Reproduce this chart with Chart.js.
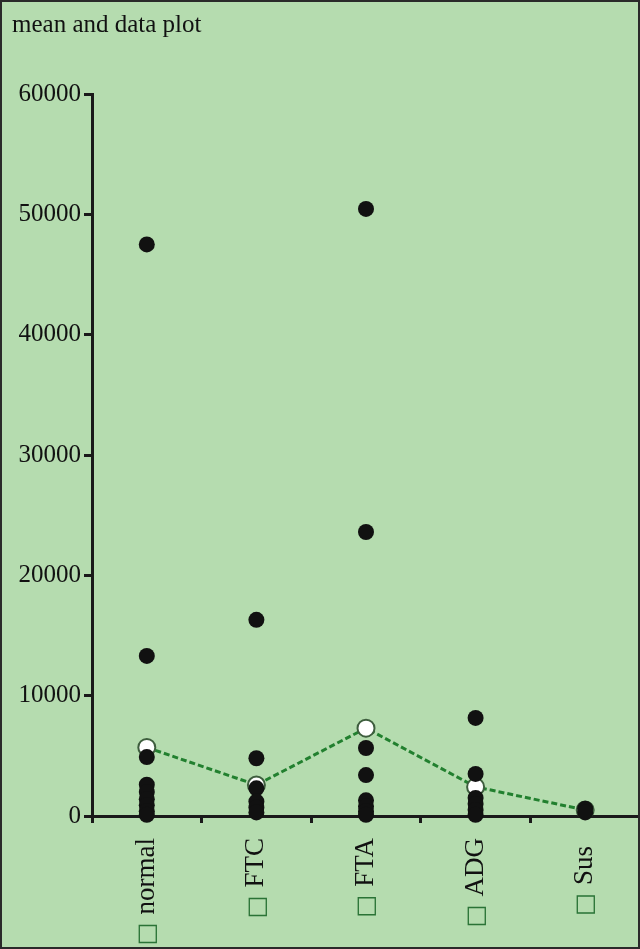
<!DOCTYPE html>
<html>
<head>
<meta charset="utf-8">
<script src="https://cdn.jsdelivr.net/npm/chart.js@4/dist/chart.umd.min.js"></script>
<style>
  html, body { margin: 0; padding: 0; background: #b5dcaf; }
  #wrap { width: 640px; height: 949px; position: relative; }
  canvas { display: block; }
</style>
</head>
<body>
<div id="wrap"><canvas id="c" width="640" height="949"></canvas></div>
<script>
// ---- data ----
const categories = ['normal', 'FTC', 'FTA', 'ADG', 'Sus'];
const yTicks = [0, 10000, 20000, 30000, 40000, 50000, 60000];
const normalValues = [47500, 13300, 4900, 2600, 2000, 1400, 900, 400, 100];
const ftcValues = [16300, 4800, 2300, 1200, 700, 300];
const ftaValues = [50450, 23600, 5650, 3400, 1300, 800, 400, 100];
const adgValues = [8150, 3500, 1500, 1000, 500, 100];
const susValues = [600, 300];
const meanValues = [5700, 2580, 7300, 2420, 500];
const titleText = 'mean and data plot';

const allGroups = [normalValues, ftcValues, ftaValues, adgValues, susValues];
const dotPoints = [];
allGroups.forEach((vals, i) => vals.forEach(v => dotPoints.push({ x: categories[i], y: v })));
const meanPoints = meanValues.map((v, i) => ({ x: categories[i], y: v }));

const SERIF = '"Liberation Serif", "Times New Roman", serif';

const frame = {
  id: 'frame',
  beforeDraw(chart) {
    const ctx = chart.ctx;
    ctx.save();
    ctx.fillStyle = '#b5dcaf';
    ctx.fillRect(0, 0, chart.width, chart.height);
    ctx.restore();
  },
  afterDraw(chart) {
    const ctx = chart.ctx;
    const xs = chart.scales.x;
    ctx.save();
    categories.forEach((lab, i) => {
      const px = xs.getPixelForValue(i);
      ctx.save();
      ctx.translate(px, i === 4 ? 846 : 838);
      ctx.rotate(-Math.PI / 2);
      ctx.textAlign = 'right';
      ctx.textBaseline = 'middle';
      ctx.font = '27px ' + SERIF;
      ctx.fillStyle = '#111';
      ctx.fillText(lab, 0, 0);
      const w = ctx.measureText(lab).width;
      ctx.font = '24px "DejaVu Sans"';
      ctx.fillStyle = '#2a7336';
      ctx.fillText('\u25A1', -w - 8, 1);
      ctx.restore();
    });
    ctx.strokeStyle = '#2a2a2a';
    ctx.lineWidth = 2;
    ctx.strokeRect(1, 1, chart.width - 2, chart.height - 2);
    ctx.restore();
  }
};

new Chart(document.getElementById('c'), {
  type: 'line',
  data: {
    labels: categories,
    datasets: [
      {
        label: 'data',
        data: dotPoints,
        showLine: false,
        pointRadius: 8,
        pointBackgroundColor: '#111',
        pointBorderColor: '#111',
        pointBorderWidth: 0,
        clip: false
      },
      {
        label: 'mean',
        data: meanPoints,
        borderColor: '#22802f',
        borderWidth: 3,
        borderDash: [6, 3],
        pointRadius: 8.5,
        pointBackgroundColor: '#ffffff',
        pointBorderColor: '#3e5e3e',
        pointBorderWidth: 2,
        tension: 0,
        clip: false
      }
    ]
  },
  options: {
    responsive: false,
    animation: false,
    layout: { autoPadding: false, padding: { left: 12, right: 0, top: 0, bottom: 0 } },
    plugins: {
      legend: { display: false },
      tooltip: { enabled: false },
      title: {
        display: true,
        text: titleText,
        align: 'start',
        color: '#111',
        font: { family: SERIF, size: 25, weight: 'normal' },
        padding: { top: 10, bottom: 54 }
      }
    },
    scales: {
      x: {
        type: 'category',
        offset: true,
        grid: {
          offset: true,
          drawOnChartArea: false,
          drawTicks: true,
          tickLength: 7,
          color: '#1a1a1a',
          tickColor: '#1a1a1a',
          lineWidth: 3,
          tickWidth: 3
        },
        border: { display: true, color: '#1a1a1a', width: 3 },
        ticks: { color: 'rgba(0,0,0,0)', font: { size: 10 }, maxRotation: 0, autoSkip: false },
        afterFit(s) { s.height = 133; }
      },
      y: {
        min: 0,
        max: 60000,
        afterBuildTicks(s) { s.ticks = yTicks.map(v => ({ value: v })); },
        grid: {
          drawOnChartArea: false,
          drawTicks: true,
          tickLength: 8,
          color: '#1a1a1a',
          tickColor: '#1a1a1a',
          lineWidth: 3,
          tickWidth: 3
        },
        border: { display: true, color: '#1a1a1a', width: 3 },
        ticks: {
          color: '#111',
          padding: 3,
          font: { family: SERIF, size: 25 },
          callback: v => String(v)
        },
        afterFit(s) { s.width = 80; }
      }
    }
  },
  plugins: [frame]
});
</script>
</body>
</html>
